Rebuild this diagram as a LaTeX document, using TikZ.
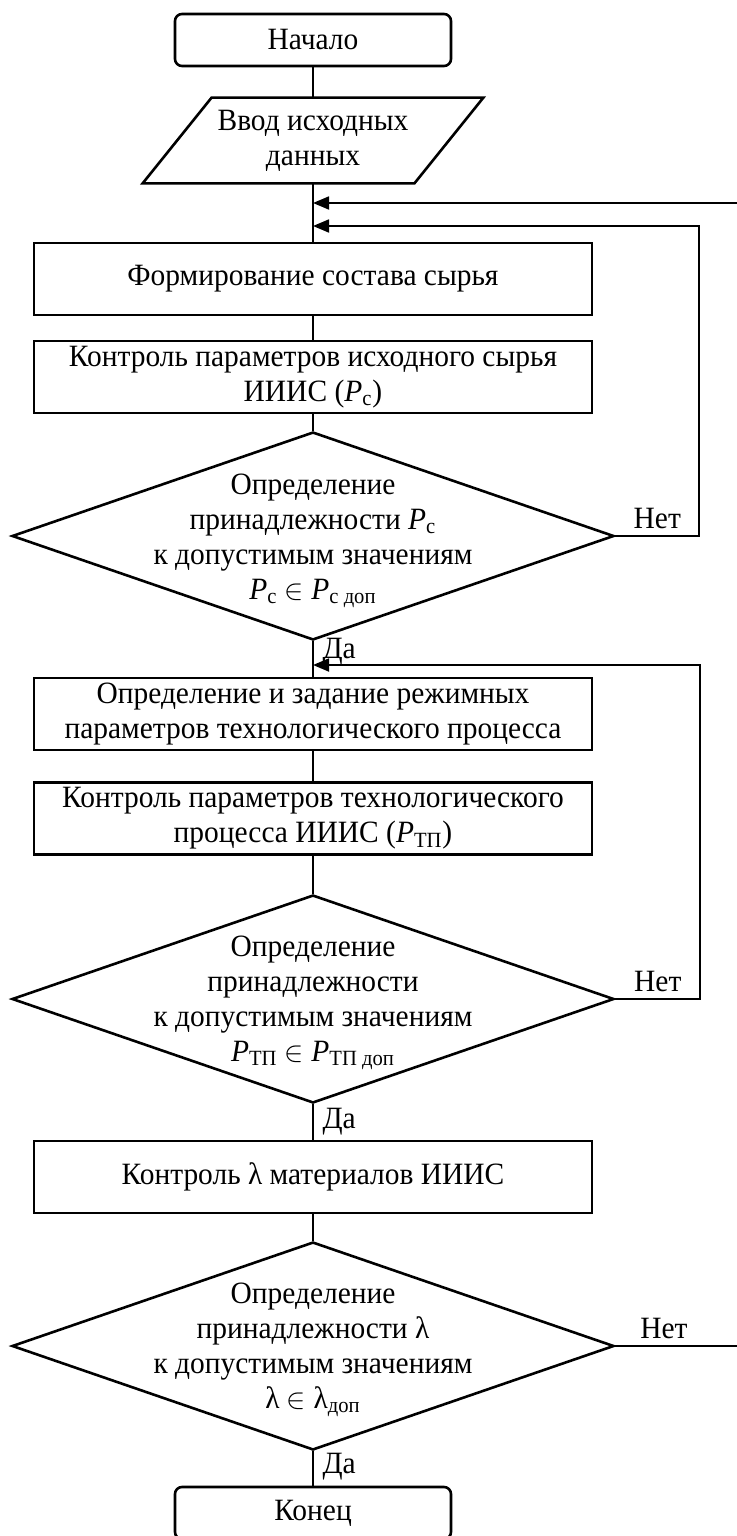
\documentclass[tikz,border=0pt]{standalone}
\usepackage{fontspec}
\setmainfont{Liberation Serif}[FakeStretch=0.95]
\usepackage{tikz}
\usetikzlibrary{arrows.meta, positioning, shapes.geometric}

\begin{document}
\begin{tikzpicture}[x=0.5pt, y=-0.5pt,
  every node/.style={font=\fontsize{15.5}{17.4}\selectfont},
  block/.style={draw, line width=1.3pt, minimum width=279pt, minimum height=36pt, align=center, inner sep=0pt},
  term/.style={draw, line width=1.3pt, rounded corners=3.5pt, minimum width=138pt, minimum height=26pt, inner sep=0pt},
  io/.style={minimum width=170pt, minimum height=42.5pt, align=center, inner sep=0pt},
  decision/.style={draw, line width=1.3pt, diamond, minimum width=301pt, minimum height=104pt, inner sep=0pt},
  txt/.style={align=center, inner sep=0pt},
  line/.style={line width=0.9pt},
  >={Triangle[length=8pt,width=6.5pt]}]
\useasboundingbox (0,0) rectangle (737,1536);

% blocks
\node[term] (start) at (313,40) {Начало};
\node[io] (inp) at (313,140.5) {Ввод исходных\\данных};
\draw[line width=1.3pt] ([xshift=34.5pt]inp.north west) -- (inp.north east)
  -- ([xshift=-34.5pt]inp.south east) -- (inp.south west) -- cycle;
\coordinate (j1) at (313,203);
\coordinate (j2) at (313,226);
\node[block] (form) at (313,279) {Формирование состава сырья};
\node[block] (ctrl1) at (313,377) {Контроль параметров исходного сырья\\ИИИС (\textit{P}\textsubscript{с})};
\node[decision] (d1) at (313,536) {};
\node[txt] (t1) at (313,541) {Определение\\принадлежности \textit{P}\textsubscript{с}\\к допустимым значениям\\\textit{P}\textsubscript{с} $\in$ \textit{P}\textsubscript{с доп}};
\coordinate (j3) at (313,665);
\node[block] (mode) at (313,714) {Определение и задание режимных\\параметров технологического процесса};
\node[block] (ctrl2) at (313,818.5) {Контроль параметров технологического\\процесса ИИИС (\textit{P}\textsubscript{ТП})};
\node[decision] (d2) at (313,999) {};
\node[txt] (t2) at (313,1003) {Определение\\принадлежности\\к допустимым значениям\\\textit{P}\textsubscript{ТП} $\in$ \textit{P}\textsubscript{ТП доп}};
\node[block] (lam) at (313,1177) {Контроль λ материалов ИИИС};
\node[decision] (d3) at (313,1346) {};
\node[txt] (t3) at (313,1350) {Определение\\принадлежности λ\\к допустимым значениям\\λ $\in$ λ\textsubscript{доп}};
\node[term] (stop) at (313,1513) {Конец};
\coordinate (rin) at (737,203);
\coordinate (rout) at (737,1346);

% main line
\draw[line] (start) -- (inp);
\draw[line] (inp) -- (form);
\draw[line] (form) -- (ctrl1);
\draw[line] (ctrl1) -- (d1);
\draw[line] (d1) -- node[right=1pt, pos=0.3] {Да} (mode);
\draw[line] (mode) -- (ctrl2);
\draw[line] (ctrl2) -- (d2);
\draw[line] (d2) -- node[right=1pt] {Да} (lam);
\draw[line] (lam) -- (d3);
\draw[line] (d3) -- node[right=1pt, pos=0.45] {Да} (stop);

% returns
\draw[line,->] (rin) -- (j1);
\draw[line,->] (d1.east) -- node[above] {Нет} ++(84,0) |- (j2);
\draw[line,->] (d2.east) -- node[above] {Нет} ++(85,0) |- (j3);
\draw[line] (d3.east) -- node[above, pos=0.4] {Нет} (rout);
\end{tikzpicture}
\end{document}
